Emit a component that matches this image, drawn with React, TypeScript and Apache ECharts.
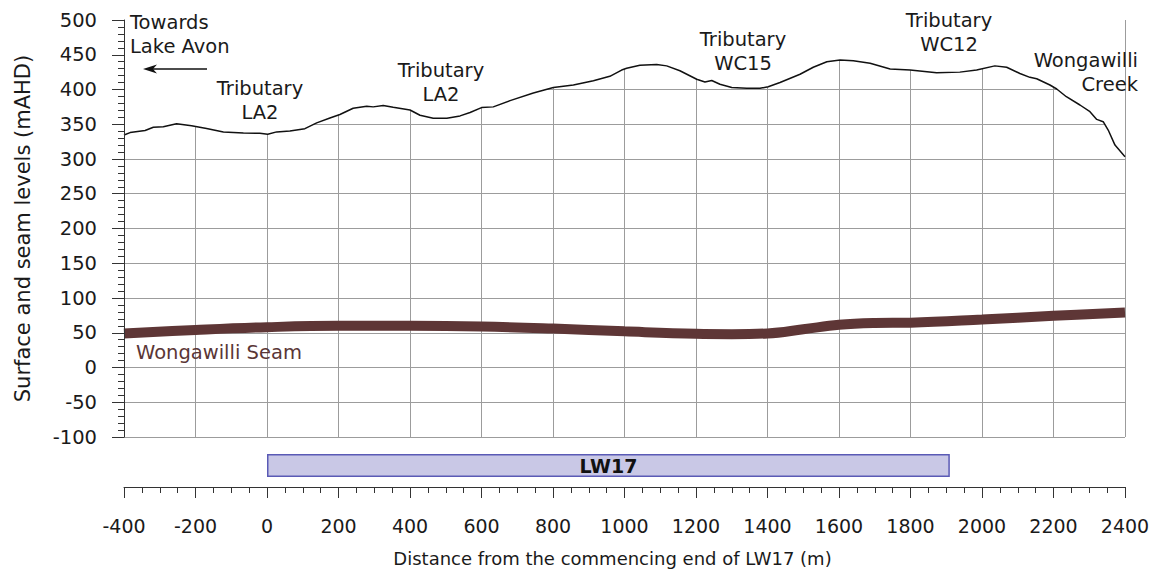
import React, { useEffect, useRef } from "react";
import * as echarts from "echarts";

// Surface profile (distance m, level mAHD)
const surfaceX = [-400,-383,-341,-318,-290,-253,-211,-169,-122,-66,-20,2,27,64,106,139,176,204,241,279,297,325,353,400,428,465,503,540,568,600,633,680,745,801,857,913,959,992,1006,1043,1090,1118,1155,1202,1225,1244,1267,1300,1342,1379,1402,1435,1491,1528,1566,1603,1640,1687,1743,1799,1873,1938,1985,2036,2069,2106,2134,2153,2190,2209,2236,2274,2302,2321,2339,2353,2372,2400];
const surfaceL = [334.5,338,341,345.6,346.5,350.8,348,344,339,337.4,337,335.5,339,340.3,343.6,352,359,364,373,376,375,377,374.4,370.5,363,358.6,358.6,362,367,374,375,384,395,403,406.5,412.7,419,428,430.5,434.8,436,434,427,414.7,410.8,413,407.5,403,401.7,401.7,404,410,421.9,432,440,442.4,441.4,437.7,429.5,428,424,425,428,434,432,423,417.5,415.5,406.5,400.7,389.6,377.7,368,357,353.7,341.7,320,303.3];

// Wongawilli seam
const seamX = [-400,-200,0,200,400,600,800,1000,1200,1300,1400,1500,1600,1700,1800,2000,2200,2400];
const seamL = [49,54,58,60,60,59,56,52,48.5,48,49,55,61.5,64,64.5,69,74.5,79];

// Longwall panel
const panelNames = ["LW17"];
const panelEnd = [1910];

const xMin = -400, xMax = 2400, xInterval = 200;
const yMin = -100, yMax = 500, yInterval = 50;

const FONT = "DejaVu Sans";

export default function App() {
  const ref = useRef<HTMLDivElement>(null);
  useEffect(() => {
    if (!ref.current) return;
    const chart = echarts.init(ref.current, undefined, { renderer: "svg" });
    const surface = surfaceX.map((x, i) => [x, surfaceL[i]]);
    const seam = seamX.map((x, i) => [x, seamL[i]]);
    const gridColor = "#9c9c9c";
    const axisColor = "#333";
    const annText = (text: string, x: number, y: number, align: string, fill = "#1a1a1a") => ({
      type: "text",
      x, y,
      z: 100,
      style: { text, fontSize: 19.5, fontFamily: FONT, fill, align, verticalAlign: "middle", lineHeight: 24 },
    });
    chart.setOption({
      animation: false,
      backgroundColor: "#fff",
      grid: [
        { left: 124, top: 20, width: 1001, height: 417, outerBoundsMode: "none", containLabel: false },
        { left: 124, top: 444, width: 1001, height: 43, outerBoundsMode: "none", containLabel: false },
      ],
      xAxis: [
        {
          gridIndex: 0, type: "value", min: xMin, max: xMax, interval: xInterval,
          axisLine: { show: false }, axisTick: { show: false }, axisLabel: { show: false },
          splitLine: { show: true, lineStyle: { color: gridColor, width: 1 } },
        },
        {
          gridIndex: 1, type: "value", min: xMin, max: xMax, interval: xInterval, position: "bottom",
          axisLine: { show: true, onZero: false, lineStyle: { color: axisColor, width: 1 } },
          axisTick: { show: true, length: 11, lineStyle: { color: axisColor } },
          minorTick: { show: true, splitNumber: 4, length: 6, lineStyle: { color: axisColor } },
          splitLine: { show: false },
          axisLabel: { fontSize: 19, fontFamily: FONT, color: "#1a1a1a", margin: 29, formatter: (v: number) => String(v) },
          name: "Distance from the commencing end of LW17 (m)",
          nameLocation: "middle", nameGap: 62,
          nameTextStyle: { fontSize: 18, fontFamily: FONT, color: "#1a1a1a", padding: [0, 24, 0, 0] },
        },
      ],
      yAxis: [
        {
          gridIndex: 0, type: "value", min: yMin, max: yMax, interval: yInterval, position: "left",
          axisLine: { show: false }, axisTick: { show: false }, axisLabel: { show: false },
          splitLine: { show: true, lineStyle: { color: gridColor, width: 1 } },
        },
        {
          gridIndex: 1, type: "category", data: panelNames,
          axisLine: { show: false }, axisTick: { show: false }, axisLabel: { show: false },
          splitLine: { show: false },
        },
        {
          gridIndex: 0, type: "value", min: yMin, max: yMax, interval: yInterval, z: 10, position: "left", offset: 0,
          axisLine: { show: true, onZero: false, lineStyle: { color: axisColor, width: 1 } },
          axisTick: { show: true, length: 12, lineStyle: { color: axisColor } },
          minorTick: { show: true, splitNumber: 5, length: 6, lineStyle: { color: axisColor } },
          splitLine: { show: false },
          axisLabel: { fontSize: 19.5, fontFamily: FONT, color: "#1a1a1a", margin: 27 },
          name: "Surface and seam levels (mAHD)",
          nameLocation: "middle", nameGap: 91, nameRotate: 90,
          nameTextStyle: { fontSize: 21, fontFamily: FONT, color: "#1a1a1a" },
        },
      ],
      series: [
        {
          // white mask above the ground surface (hides the grid in the sky)
          type: "custom", xAxisIndex: 0, yAxisIndex: 0, data: surface, z: 3, silent: true,
          renderItem: (params: any, api: any) => {
            if (params.dataIndex !== 0) return null;
            const pts = surface.map((p) => api.coord(p));
            const tl = api.coord([xMin, yMax]);
            const tr = api.coord([xMax, yMax]);
            return { type: "polygon", shape: { points: [tl, ...pts, tr] }, style: { fill: "#ffffff", stroke: null } };
          },
        },
        {
          type: "line", xAxisIndex: 0, yAxisIndex: 0, data: surface, symbol: "none",
          lineStyle: { color: "#111", width: 1.5 },
          z: 4,
        },
        {
          type: "line", xAxisIndex: 0, yAxisIndex: 0, data: seam, symbol: "none", smooth: 0.4,
          lineStyle: { color: "#5e3636", width: 10, cap: "butt" },
          z: 5,
        },
        {
          type: "bar", xAxisIndex: 1, yAxisIndex: 1, data: panelEnd, barWidth: 23,
          itemStyle: { color: "#c9c8e6", borderColor: "#5a5ab5", borderWidth: 1.5 },
          label: {
            show: true, position: "inside", formatter: (p: any) => p.name,
            fontSize: 19, fontWeight: "bold", fontFamily: FONT, color: "#111",
          },
        },
      ],
      graphic: [
        annText("Towards\nLake Avon", 130, 34, "left"),
        { type: "line", shape: { x1: 207, y1: 69, x2: 150, y2: 69 }, style: { stroke: "#111", lineWidth: 1.6 }, z: 100 },
        { type: "polygon", shape: { points: [[143, 69], [157, 64.5], [153, 69], [157, 73.5]] }, style: { fill: "#111" }, z: 100 },
        annText("Tributary\nLA2", 260, 100, "center"),
        annText("Tributary\nLA2", 441, 82, "center"),
        annText("Tributary\nWC15", 743, 51, "center"),
        annText("Tributary\nWC12", 949, 32, "center"),
        annText("Wongawilli\nCreek", 1138, 72, "right"),
        annText("Wongawilli Seam", 136, 352, "left", "#5a3636"),
      ],
    });
    return () => chart.dispose();
  }, []);
  return (
    <div
      ref={ref}
      style={{ position: "fixed", left: 0, top: 0, width: 1156, height: 573, background: "#fff" }}
    />
  );
}
